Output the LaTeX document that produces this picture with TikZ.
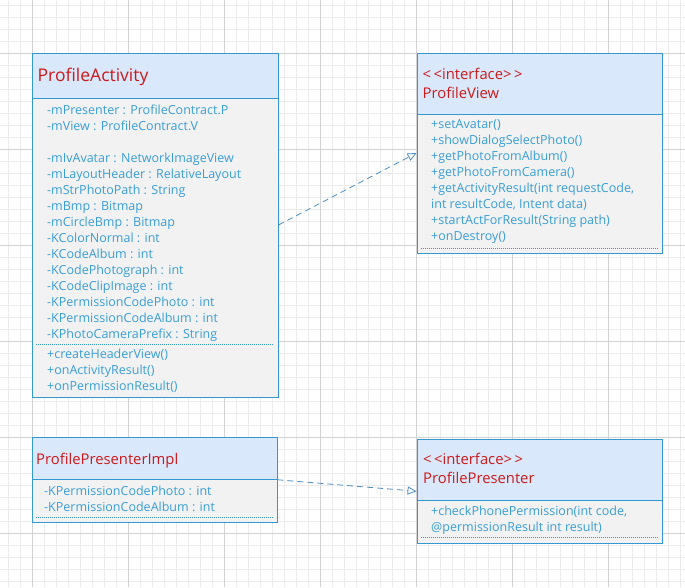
\documentclass[tikz,border=0pt]{standalone}
\usepackage{fontspec}
\setmainfont{Open Sans}
\usetikzlibrary{arrows.meta}
\definecolor{gridminor}{HTML}{EBEBEB}
\definecolor{gridmajor}{HTML}{D2D2D2}
\definecolor{umlborder}{HTML}{3399CC}
\definecolor{umlhead}{HTML}{DAE8FC}
\definecolor{umlbody}{HTML}{F2F2F2}
\definecolor{umltext}{HTML}{389ED6}
\definecolor{umlname}{HTML}{CC1A1A}
\definecolor{umlarrow}{HTML}{4E8FC0}
\begin{document}
\begin{tikzpicture}[x=1pt,y=-1pt,
  classbox/.style={draw=umlborder,fill=umlbody,line width=0.9pt,inner sep=0pt},
  headbox/.style={draw=umlborder,fill=umlhead,line width=0.9pt},
  classname/.style={anchor=base west,inner sep=0pt,text=umlname,font=\fontsize{14.8}{18}\selectfont},
  members/.style={anchor=north west,inner sep=0pt,align=left,text=umltext,font=\fontsize{12.5}{16}\selectfont},
  sep/.style={draw=umlborder,line width=0.5pt,dash pattern=on 1pt off 1pt},
  realize/.style={draw=umlarrow,line width=0.8pt,dash pattern=on 6pt off 4pt,-{Triangle[open,length=9pt,width=8pt]}}]
  \useasboundingbox (0,0) rectangle (685,587);
  \fill[white] (0,0) rectangle (685,587);
  % grid
  \foreach \x in {8,20,...,680} \draw[gridminor,line width=0.6pt] (\x,0) -- (\x,587);
  \foreach \y in {5,17,...,585} \draw[gridminor,line width=0.6pt] (0,\y) -- (685,\y);
  \foreach \x in {32,128,...,608} \draw[gridmajor,line width=0.7pt] (\x,0) -- (\x,587);
  \foreach \y in {53,149,...,533} \draw[gridmajor,line width=0.7pt] (0,\y) -- (685,\y);

  % ProfileActivity
  \node[classbox,minimum width=246pt,minimum height=344pt] (pa) at (155,225) {};
  \draw[headbox] (32,53) rectangle (278,98);
  \node[classname,font=\fontsize{17.5}{20}\selectfont] (paname) at (37.5,81) {ProfileActivity};
  \node[members] (paattr) at (47,104.3) {-mPresenter : ProfileContract.P\\
    -mView : ProfileContract.V\\[16pt]
    -mIvAvatar : NetworkImageView\\
    -mLayoutHeader : RelativeLayout\\
    -mStrPhotoPath : String\\
    -mBmp : Bitmap\\
    -mCircleBmp : Bitmap\\
    -KColorNormal : int\\
    -KCodeAlbum : int\\
    -KCodePhotograph : int\\
    -KCodeClipImage : int\\
    -KPermissionCodePhoto : int\\
    -KPermissionCodeAlbum : int\\
    -KPhotoCameraPrefix : String};
  \draw[sep] (36,344) -- (274,344);
  \node[members] (paops) at (47,348.3) {+createHeaderView()\\
    +onActivityResult()\\
    +onPermissionResult()};

  % ProfileView
  \node[classbox,minimum width=245pt,minimum height=200pt] (pv) at (539.5,153) {};
  \draw[headbox] (417,53) rectangle (662,114.3);
  \node[classname] (pvstereo) at (422.5,79.5) {<\,<interface>\,>};
  \node[classname] (pvname) at (422.5,98) {ProfileView};
  \node[members] (pvops) at (431,119.3) {+setAvatar()\\
    +showDialogSelectPhoto()\\
    +getPhotoFromAlbum()\\
    +getPhotoFromCamera()\\
    +getActivityResult(int requestCode,\\
    int resultCode, Intent data)\\
    +startActForResult(String path)\\
    +onDestroy()};
  \draw[sep] (421,248.3) -- (658,248.3);

  % ProfilePresenterImpl
  \node[classbox,minimum width=245pt,minimum height=84.5pt] (ppi) at (154.5,479.75) {};
  \draw[headbox] (32,437.5) rectangle (277,479.3);
  \node[classname] (ppiname) at (36,464.5) {ProfilePresenterImpl};
  \node[members] (ppiattr) at (44,485.3) {-KPermissionCodePhoto : int\\
    -KPermissionCodeAlbum : int};
  \draw[sep] (36,517) -- (273,517);

  % ProfilePresenter
  \node[classbox,minimum width=245pt,minimum height=103.5pt] (pp) at (539.5,491.25) {};
  \draw[headbox] (417,439.5) rectangle (662,500.3);
  \node[classname] (ppstereo) at (423,464.5) {<\,<interface>\,>};
  \node[classname] (ppname) at (423,483.5) {ProfilePresenter};
  \node[members] (ppops) at (431,505.3) {+checkPhonePermission(int code,\\
    @permissionResult int result)};
  \draw[sep] (421,537.3) -- (658,537.3);

  % realizations
  \draw[realize] (pa.east) -- (pv.west);
  \draw[realize] (ppi.east) -- (pp.west);
\end{tikzpicture}
\end{document}
